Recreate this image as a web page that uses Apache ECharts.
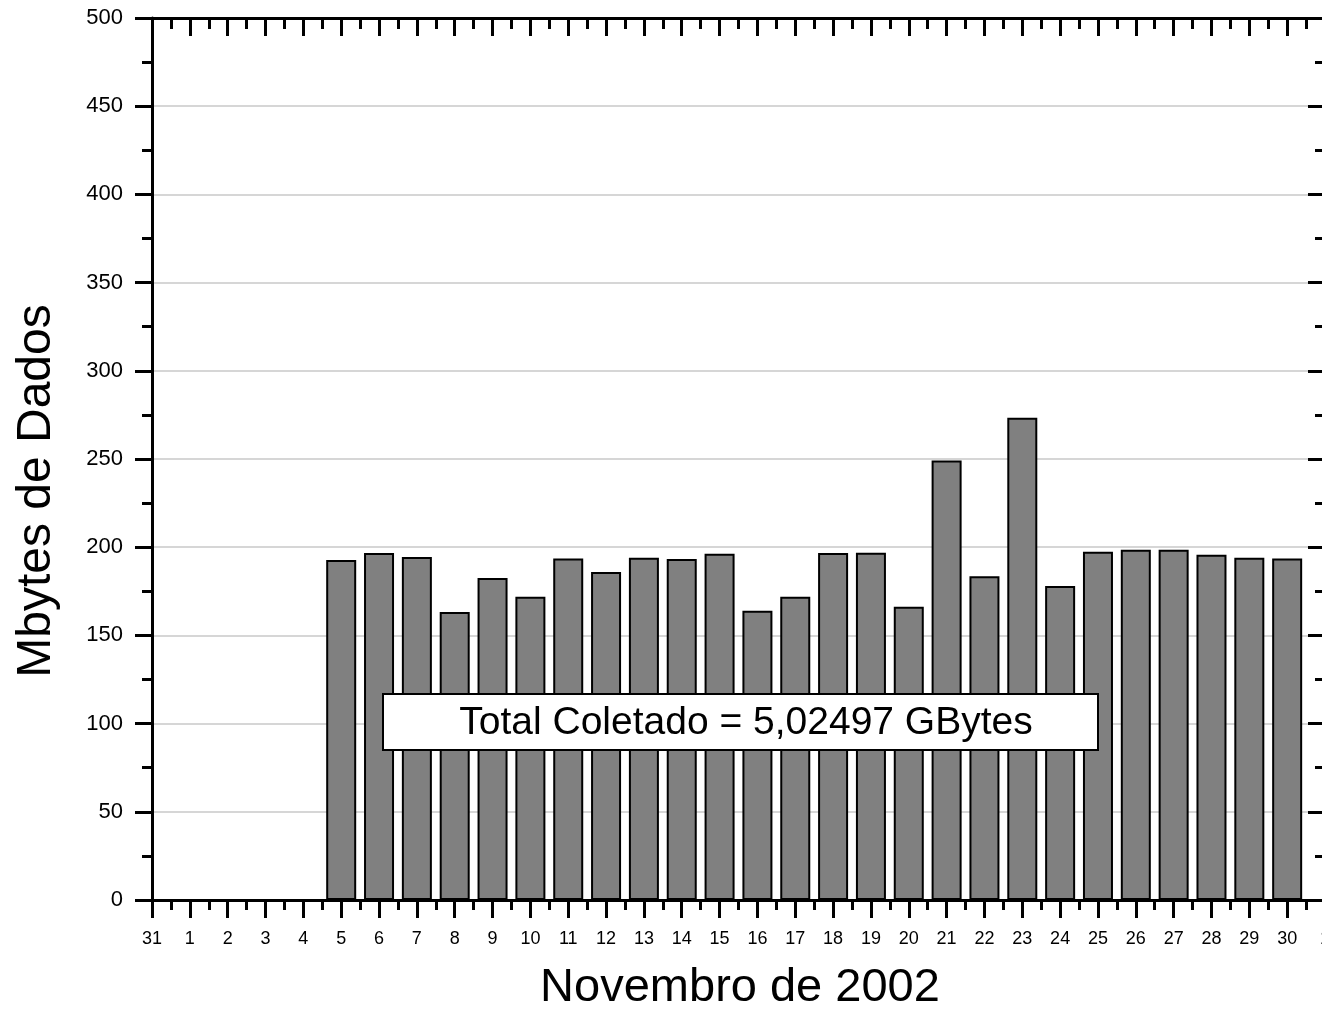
<!DOCTYPE html>
<html>
<head>
<meta charset="utf-8">
<script src="https://cdn.jsdelivr.net/npm/echarts@6/dist/echarts.min.js"></script>
<style>
html,body{margin:0;padding:0;background:#fff;}
#chart{width:1322px;height:1013px;}
</style>
</head>
<body>
<div id="chart"></div>
<script>
// Day labels for the x axis (index 0 = Oct 31, last = Dec 1)
const dayLabels = ['31','1','2','3','4','5','6','7','8','9','10','11','12','13','14','15','16','17','18','19','20','21','22','23','24','25','26','27','28','29','30','1'];
// Mbytes collected per day (null = no data)
const mbytes = [null,null,null,null,null,192.7,196.7,194.5,163.3,182.5,171.9,193.6,185.9,194.0,193.3,196.3,164.0,171.9,196.7,196.8,166.3,249.1,183.6,273.4,178.0,197.4,198.5,198.5,195.7,194.0,193.6];
const yTicks = [0,50,100,150,200,250,300,350,400,450,500];
const xTitle = 'Novembro de 2002';
const yTitle = 'Mbytes de Dados';
const noteText = 'Total Coletado = 5,02497 GBytes';

const FONT = '"Liberation Sans", Arial, sans-serif';
const seriesData = [];
mbytes.forEach((v, i) => { if (v !== null) seriesData.push([i, v]); });

const chart = echarts.init(document.getElementById('chart'), null, {renderer:'canvas'});
const axisLine = {show:true, onZero:false, lineStyle:{color:'#000', width:3}};
chart.setOption({
  animation:false,
  backgroundColor:'#fff',
  grid:{left:152, top:18, width:1173, height:882, containLabel:false, outerBoundsMode:'none'},
  xAxis:[{
    type:'value', min:0, max:dayLabels.length-1, interval:1, position:'bottom',
    axisLine:axisLine,
    axisTick:{show:true, inside:false, length:18, lineStyle:{color:'#000', width:3}},
    minorTick:{show:true, splitNumber:2, length:10, lineStyle:{color:'#000', width:3}},
    splitLine:{show:false},
    axisLabel:{show:true, margin:30, fontFamily:FONT, fontSize:18, color:'#000',
      formatter:(v)=>dayLabels[Math.round(v)] ?? ''}
  },{
    type:'value', min:0, max:dayLabels.length-1, interval:1, position:'top',
    axisLine:axisLine,
    axisTick:{show:true, inside:true, length:18, lineStyle:{color:'#000', width:3}},
    minorTick:{show:true, splitNumber:2, length:11, lineStyle:{color:'#000', width:3}},
    splitLine:{show:false}, axisLabel:{show:false}
  }],
  yAxis:[{
    type:'value', min:yTicks[0], max:yTicks[yTicks.length-1], interval:50, position:'left',
    axisLine:axisLine,
    axisTick:{show:true, inside:false, length:17, lineStyle:{color:'#000', width:3}},
    minorTick:{show:true, splitNumber:2, length:10, lineStyle:{color:'#000', width:3}},
    splitLine:{show:true, lineStyle:{color:'#c8c8c8', width:1.5}},
    axisLabel:{show:true, margin:29, fontFamily:FONT, fontSize:22, color:'#000'}
  },{
    type:'value', min:yTicks[0], max:yTicks[yTicks.length-1], interval:50, position:'right',
    axisLine:axisLine,
    axisTick:{show:true, inside:true, length:17, lineStyle:{color:'#000', width:3}},
    minorTick:{show:true, splitNumber:2, length:10, lineStyle:{color:'#000', width:3}},
    splitLine:{show:false}, axisLabel:{show:false}
  }],
  series:[{
    type:'bar', xAxisIndex:0, yAxisIndex:0,
    data:seriesData, barWidth:30,
    itemStyle:{color:'#808080', borderColor:'#000', borderWidth:2},
    z:1
  }],
  graphic:[
    {type:'text', x:37, y:491, rotation:Math.PI/2, z:10,
      style:{text:yTitle, x:0, y:0, align:'center', verticalAlign:'middle', font:'48px '+FONT, fill:'#000'}},
    {type:'text', x:740, y:988, z:10,
      style:{text:xTitle, x:0, y:0, align:'center', verticalAlign:'middle', font:'47px '+FONT, fill:'#000'}},
    {type:'rect', x:383, y:694, z:10,
      shape:{width:715, height:56}, style:{fill:'#fff', stroke:'#000', lineWidth:2}},
    {type:'text', x:746, y:723, z:11,
      style:{text:noteText, x:0, y:0, align:'center', verticalAlign:'middle', font:'39px '+FONT, fill:'#000'}}
  ]
});
</script>
</body>
</html>
